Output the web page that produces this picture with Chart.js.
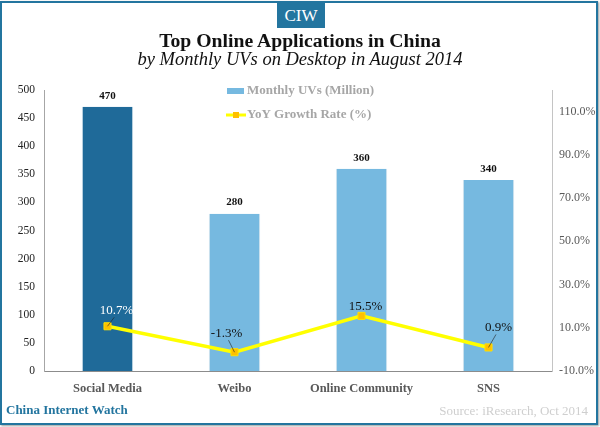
<!DOCTYPE html>
<html>
<head>
<meta charset="utf-8">
<script src="https://cdn.jsdelivr.net/npm/chart.js@4/dist/chart.umd.js"></script>
<style>
  html, body { margin: 0; padding: 0; background: #fff; }
  #page { position: relative; width: 600px; height: 427px; overflow: hidden; font-family: "Liberation Serif", serif; }
  #frame { position: absolute; left: 0; top: 1px; width: 594px; height: 420px; border: 2px solid #23759f; box-shadow: 1px 1px 2px #999; }
  #badge { position: absolute; left: 277px; top: 2px; width: 48px; height: 26px; line-height: 27px; background: #23759f; color: #fff; font-size: 17px; text-align: center; }
  #title { position: absolute; left: 0; width: 600px; top: 29px; text-align: center; font-size: 19.7px; font-weight: bold; color: #111; }
  #subtitle { position: absolute; left: 0; width: 600px; top: 49px; text-align: center; font-size: 18.5px; font-style: italic; color: #111; }
  #brand { position: absolute; left: 6px; top: 402px; font-size: 13px; font-weight: bold; color: #23759f; }
  #source { position: absolute; right: 12px; top: 403px; font-size: 13px; color: #cfcfcf; }
  #chart { position: absolute; left: 0; top: 0; }
</style>
</head>
<body>
<div id="page">
  <div id="frame"></div>
  <canvas id="chart" width="600" height="427"></canvas>
  <div id="badge">CIW</div>
  <div id="title">Top Online Applications in China</div>
  <div id="subtitle">by Monthly UVs on Desktop in August 2014</div>
  <div id="brand">China Internet Watch</div>
  <div id="source">Source: iResearch, Oct 2014</div>
</div>
<script>
const categories = ['Social Media', 'Weibo', 'Online Community', 'SNS'];
const monthlyUVs = [470, 280, 360, 340];
const yoyGrowth = [10.7, -1.3, 15.5, 0.9];
const growthTicks = [-10, 10, 30, 50, 70, 90, 110];

const barColors = ['#1f6a99', '#76b9e0', '#76b9e0', '#76b9e0'];
// label placement relative to the point, x/y in px, leader = draw the thin line
const growthLabelPlacement = [
  { dx: 9, dy: -16, color: '#fff', leader: true },
  { dx: -8, dy: -19, color: '#111', leader: true },
  { dx: 4, dy: -9, color: '#111', leader: false },
  { dx: 10, dy: -20, color: '#111', leader: true },
];

const serif = '"Liberation Serif", serif';

// values over the bars and the growth labels with their leader lines
const valueLabels = {
  id: 'valueLabels',
  afterDatasetsDraw(chart) {
    const { ctx } = chart;
    ctx.save();
    ctx.textAlign = 'center';
    ctx.textBaseline = 'middle';

    chart.getDatasetMeta(0).data.forEach((bar, i) => {
      ctx.font = 'bold 11px ' + serif;
      ctx.fillStyle = '#111';
      ctx.fillText(String(monthlyUVs[i]), bar.x, bar.y - 11);
    });

    chart.getDatasetMeta(1).data.forEach((pt, i) => {
      const p = growthLabelPlacement[i];
      if (p.leader) {
        ctx.strokeStyle = '#222';
        ctx.lineWidth = 0.6;
        ctx.beginPath();
        ctx.moveTo(pt.x, pt.y);
        ctx.lineTo(pt.x + p.dx * 0.75, pt.y + p.dy + 7);
        ctx.stroke();
      }
      ctx.font = '13px ' + serif;
      ctx.fillStyle = p.color;
      ctx.fillText(yoyGrowth[i].toFixed(1) + '%', pt.x + p.dx, pt.y + p.dy);
    });
    ctx.restore();
  },
};

// stacked legend sitting inside the plot
const insideLegend = {
  id: 'insideLegend',
  afterDraw(chart) {
    const { ctx } = chart;
    const sets = chart.data.datasets;
    ctx.save();
    ctx.font = 'bold 13px ' + serif;
    ctx.fillStyle = '#a6a6a6';
    ctx.textAlign = 'left';
    ctx.textBaseline = 'middle';
    ctx.fillText(sets[0].label, 247, 90.5);
    ctx.fillText(sets[1].label, 247, 115);

    ctx.fillStyle = '#76b9e0';
    ctx.fillRect(227, 88, 17, 6);

    ctx.strokeStyle = '#ffff00';
    ctx.lineWidth = 3;
    ctx.beginPath();
    ctx.moveTo(226, 115);
    ctx.lineTo(246, 115);
    ctx.stroke();
    ctx.fillStyle = '#ffc000';
    ctx.fillRect(233, 112, 6, 6);
    ctx.restore();
  },
};

new Chart(document.getElementById('chart'), {
  data: {
    labels: categories,
    datasets: [
      {
        type: 'bar',
        label: 'Monthly UVs (Million)',
        data: monthlyUVs,
        yAxisID: 'yUV',
        backgroundColor: barColors,
        borderColor: '#d8e6ee',
        borderWidth: { left: 1, right: 1 },
        barPercentage: 0.405,
        categoryPercentage: 1,
        order: 2,
      },
      {
        type: 'line',
        label: 'YoY Growth Rate (%)',
        data: yoyGrowth,
        yAxisID: 'yGrowth',
        borderColor: '#ffff00',
        borderWidth: 3.5,
        tension: 0,
        pointStyle: 'rect',
        pointRadius: 5,
        pointBackgroundColor: '#ffc000',
        pointBorderColor: '#ffe000',
        pointBorderWidth: 1,
        order: 1,
      },
    ],
  },
  options: {
    responsive: false,
    animation: false,
    layout: { padding: { left: 0, right: 0, top: 90, bottom: 0 } },
    plugins: { legend: { display: false }, tooltip: { enabled: false } },
    scales: {
      x: {
        grid: { display: false, drawTicks: false },
        border: { color: '#8c8c8c', width: 1 },
        ticks: { color: '#595959', font: { family: serif, size: 12.5, weight: 'bold' }, padding: 10, maxRotation: 0 },
        afterFit(scale) { scale.height = 56; },
      },
      yUV: {
        position: 'left',
        min: 0,
        max: 500,
        grid: { display: false, drawTicks: true, tickLength: 5, tickColor: '#8c8c8c' },
        border: { color: '#a6a6a6', width: 1 },
        ticks: { stepSize: 50, color: '#222', font: { family: serif, size: 11.5 }, padding: 4 },
        afterFit(scale) { scale.width = 44; },
      },
      yGrowth: {
        position: 'right',
        min: -10,
        max: 120,
        grid: { display: false, drawOnChartArea: false, tickLength: 4, tickColor: '#bbb' },
        border: { color: '#c4c4c4', width: 1 },
        ticks: { color: '#595959', font: { family: serif, size: 12 }, padding: 3, callback: v => v.toFixed(1) + '%' },
        afterBuildTicks(scale) { scale.ticks = growthTicks.map(value => ({ value })); },
        afterFit(scale) { scale.width = 48; },
      },
    },
  },
  plugins: [valueLabels, insideLegend],
});
</script>
</body>
</html>
